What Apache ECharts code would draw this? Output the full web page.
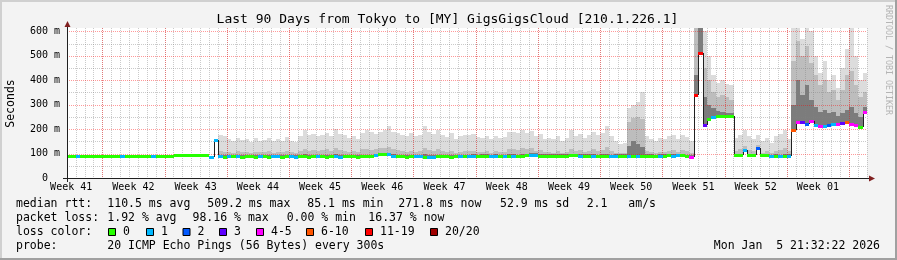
<!DOCTYPE html>
<html>
<head>
<meta charset="utf-8">
<script src="https://cdn.jsdelivr.net/npm/echarts@6/dist/echarts.min.js"></script>
<style>
html,body{margin:0;padding:0;background:#f3f3f3;}
#c{width:897px;height:260px;}
</style>
</head>
<body>
<div id="c"></div>
<script>
// ---------------- DATA ----------------
const titleText = 'Last 90 Days from Tokyo to [MY] GigsGigsCloud [210.1.226.1]';
const yAxisName = 'Seconds';
const creditText = 'RRDTOOL / TOBI OETIKER';
const dateText = 'Mon Jan  5 21:32:22 2026';

const weekLabels = ['Week 41','Week 42','Week 43','Week 44','Week 45','Week 46','Week 47',
                    'Week 48','Week 49','Week 50','Week 51','Week 52','Week 01'];
const weekLabelDays = [0.47, 7.47, 14.47, 21.47, 28.47, 35.47, 42.47, 49.47, 56.47, 63.47, 70.47, 77.47, 84.47];
const weekStartDays = [3.97, 10.97, 17.97, 24.97, 31.97, 38.97, 45.97, 52.97, 59.97, 66.97, 73.97, 80.97, 87.97];
const yTicks = [0, 100, 200, 300, 400, 500, 600];
const yMinorTicks = [50, 150, 250, 350, 450, 550];
const totalDays = 90;
const yMaxMs = 614;
const sampleStepDays = 0.5;

// median RTT per half-day sample (ms)
const medianRtt = [
  89,89,89,89,89,89,89,89,89,89,
  89,89,89,92,92,92,92,89,89,89,
  89,89,89,89,93,93,93,93,93,93,
  93,93,88,157,89,88,89,90,89,88,
  89,89,88,90,89,88,89,90,88,89,
  89,88,90,89,88,89,90,89,88,89,
  90,88,89,89,90,88,89,89,90,95,
  97,98,97,92,90,89,88,89,90,89,
  88,87,87,89,90,89,88,89,90,89,
  90,91,90,92,91,90,91,90,89,92,
  91,90,92,93,95,96,92,91,92,91,
  92,91,92,93,94,92,91,92,91,90,
  91,92,90,91,92,91,92,92,91,92,
  91,91,90,91,92,93,92,94,95,90,
  88,340,510,215,240,250,252,252,252,252,
  96,95,115,95,95,122,95,93,90,92,
  90,92,92,195,230,228,222,232,218,212,
  214,216,222,220,224,228,222,216,208,272
];
// lost pings (of 20) per sample
const lossCount = [
  0,0,1,0,0,0,0,0,0,0,
  0,0,1,0,0,0,0,0,0,1,
  0,0,0,0,0,0,0,0,0,0,
  0,0,1,1,1,0,1,0,1,0,
  0,0,0,1,0,0,1,1,0,0,
  1,1,0,0,0,0,1,0,0,0,
  1,1,0,0,0,0,0,0,0,1,
  0,0,1,1,0,0,0,0,1,1,
  0,1,1,0,0,0,0,0,1,0,
  1,1,0,0,0,1,1,0,1,0,
  1,0,0,0,1,1,0,0,0,0,
  0,0,0,0,0,1,0,0,1,0,
  0,0,1,1,0,0,1,0,1,0,
  0,0,0,1,0,0,1,1,0,0,
  5,15,15,3,0,1,0,0,0,0,
  0,0,1,0,0,2,0,0,1,0,
  1,0,1,10,5,3,2,5,1,5,
  1,2,1,5,3,10,5,5,0,5
];
// smoke: outer (max ping) layer top
const smokeHi = [
  null,null,null,null,null,null,null,null,null,null,
  null,null,null,null,null,null,null,null,null,null,
  null,null,null,null,null,null,null,null,null,null,
  null,null,null,null,178,170,160,150,165,155,
  158,148,162,152,155,165,150,160,152,168,
  150,148,172,198,175,182,170,178,184,172,
  200,182,176,165,172,160,185,198,190,180,
  188,195,211,190,185,178,170,184,172,176,
  211,190,182,196,178,168,184,160,172,176,
  175,180,168,165,170,158,172,162,168,188,
  190,184,196,186,192,170,182,160,165,158,
  170,150,162,198,172,180,165,178,190,178,
  186,212,172,150,140,145,285,300,310,350,
  170,160,150,165,158,172,176,160,178,168,
  150,614,614,600,500,420,390,400,385,380,
  165,178,197,170,160,175,150,165,145,172,
  180,196,160,614,614,570,614,600,500,430,
  480,400,420,370,450,530,614,500,400,430
];
// smoke: middle layer top
const smokeMid = [
  null,null,null,null,null,null,null,null,null,null,
  null,null,null,null,null,null,null,null,null,null,
  null,null,null,null,null,null,null,null,null,null,
  null,null,null,null,112,108,106,104,110,108,
  106,104,108,105,106,110,104,108,106,112,
  106,104,110,118,112,115,110,114,118,112,
  122,116,112,108,112,106,118,120,116,118,
  122,124,126,118,114,110,106,112,108,110,
  124,116,112,118,110,106,112,104,108,110,
  110,112,106,108,110,104,110,106,108,118,
  120,116,122,118,122,112,116,106,108,104,
  110,104,108,120,110,114,108,112,118,112,
  116,126,110,104,102,104,230,245,250,240,
  110,106,104,108,106,112,114,108,114,110,
  104,614,614,450,400,350,330,340,330,320,
  112,118,130,114,110,135,104,110,102,112,
  116,124,110,480,560,500,540,470,420,380,
  400,350,360,320,360,420,440,380,330,350
];
// smoke: inner (dark) layer top
const smokeDark = [
  null,null,null,null,null,null,null,null,null,null,
  null,null,null,null,null,null,null,null,null,null,
  null,null,null,null,null,null,null,null,null,null,
  null,null,null,null,96,94,95,96,95,94,
  95,95,94,96,95,94,95,96,94,95,
  95,94,96,97,94,95,96,95,96,95,
  98,95,95,95,96,94,95,96,96,100,
  102,103,102,98,96,95,94,95,96,95,
  97,94,94,95,96,95,94,95,96,95,
  96,97,96,98,97,96,97,96,95,98,
  97,96,98,99,101,102,98,97,98,97,
  98,97,98,99,100,98,97,98,97,96,
  97,98,96,97,98,97,130,150,140,125,
  97,97,96,97,98,99,98,99,100,96,
  94,420,614,330,300,285,275,272,268,265,
  100,100,118,100,100,125,100,98,96,98,
  96,98,98,300,400,340,380,320,290,270,
  280,265,270,255,265,280,290,265,250,290
];

const lossBandLabels = ['0','1','2','3','4-5','6-10','11-19','20/20'];
const lossBandMax = [0, 1, 2, 3, 5, 10, 19, 20];
const lossColors = ['#26ff00','#00b8ff','#0059ff','#5e00ff','#ff00ff','#ff5500','#ff0000','#a00000'];

const legendRtt = ['median rtt:', '110.5 ms avg', '509.2 ms max', '85.1 ms min', '271.8 ms now', '52.9 ms sd', '2.1', 'am/s'];
const legendLoss = ['packet loss:', '1.92 % avg', '98.16 % max', '0.00 % min', '16.37 % now'];
const legendLossColor = 'loss color:';
const legendProbe = ['probe:', '20 ICMP Echo Pings (56 Bytes) every 300s'];

// ---------------- STYLE / LAYOUT ----------------
const MONO = '"DejaVu Sans Mono", monospace';
const smokeColors = ['#dcdcdc', '#bdbdbd', '#7c7c7c'];
const gridMinorColor = 'rgba(128,128,128,0.42)';
const gridMajorColor = 'rgba(255,0,0,0.40)';
const PLOT = {left: 67, top: 28, width: 800, height: 150};

function lossColor(n) {
  for (let k = 0; k < lossBandMax.length; k++) if (n <= lossBandMax[k]) return lossColors[k];
  return lossColors[lossColors.length - 1];
}

const smokeData = [];
medianRtt.forEach((m, i) => {
  if (smokeHi[i] != null) smokeData.push([i * sampleStepDays, m, smokeHi[i], smokeMid[i], smokeDark[i]]);
});
const medianData = medianRtt.map((m, i) => [i * sampleStepDays, m, lossCount[i], i > 0 ? medianRtt[i - 1] : m]);

const gridData = [];
for (let k = 0; k < totalDays; k++) gridData.push([weekStartDays[0] - 3 + k, 0, 0]);
weekStartDays.forEach(d => gridData.push([d, 0, 1]));
yMinorTicks.forEach(v => gridData.push([0, v, 2]));
yTicks.slice(1).forEach(v => gridData.push([0, v, 3]));

function renderSmoke(params, api) {
  const t0 = api.value(0);
  const base = api.value(1);
  const xa = Math.round(api.coord([t0, 0])[0]);
  const xb = Math.round(api.coord([t0 + sampleStepDays, 0])[0]);
  const yb = Math.round(api.coord([t0, base])[1]);
  const children = [];
  [2, 3, 4].forEach((dim, li) => {
    const top = api.value(dim);
    if (top == null || isNaN(top) || top <= base) return;
    const yt = Math.round(api.coord([t0, Math.min(top, yMaxMs)])[1]);
    children.push({type: 'rect', shape: {x: xa, y: yt, width: xb - xa, height: yb - yt},
      style: {fill: smokeColors[li]}});
  });
  return {type: 'group', children};
}

function renderMedian(params, api) {
  const t0 = api.value(0), m = api.value(1), loss = api.value(2), prev = api.value(3);
  const xa = Math.round(api.coord([t0, 0])[0]);
  const xb = Math.round(api.coord([t0 + sampleStepDays, 0])[0]);
  const y = Math.round(api.coord([t0, m])[1]);
  const children = [];
  const yp = Math.round(api.coord([t0, prev])[1]);
  if (Math.abs(yp - y) > 2) {
    children.push({type: 'line', shape: {x1: xa + 0.5, y1: yp, x2: xa + 0.5, y2: y},
      style: {stroke: '#202020', lineWidth: 1}});
  }
  children.push({type: 'rect', shape: {x: xa, y: y - 1, width: xb - xa, height: 3},
    style: {fill: lossColor(loss)}});
  return {type: 'group', children};
}

function renderGrid(params, api) {
  const cs = params.coordSys;
  const kind = api.value(2);
  const color = (kind === 1 || kind === 3) ? gridMajorColor : gridMinorColor;
  let shape;
  if (kind <= 1) {
    const x = Math.round(api.coord([api.value(0), 0])[0]) + 0.5;
    shape = {x1: x, y1: cs.y, x2: x, y2: cs.y + cs.height};
  } else {
    const y = Math.round(api.coord([0, api.value(1)])[1]) + 0.5;
    shape = {x1: cs.x, y1: y, x2: cs.x + cs.width, y2: y};
  }
  return {type: 'line', shape, style: {stroke: color, lineWidth: 1, lineDash: [1, 1]}};
}

// ---------------- GRAPHICS (frame, texts, legend) ----------------
const W = 897, H = 260;
const graphics = [];
graphics.push({type: 'rect', shape: {x: 0, y: 0, width: W, height: 2}, style: {fill: '#d0d0d0'}, z: 100});
graphics.push({type: 'rect', shape: {x: 0, y: 0, width: 2, height: H}, style: {fill: '#d0d0d0'}, z: 100});
graphics.push({type: 'rect', shape: {x: W - 2, y: 0, width: 2, height: H}, style: {fill: '#a0a0a0'}, z: 101});
graphics.push({type: 'rect', shape: {x: 0, y: H - 2, width: W, height: 2}, style: {fill: '#a0a0a0'}, z: 101});
const axY = PLOT.top + PLOT.height;
graphics.push({type: 'line', shape: {x1: PLOT.left - 4, y1: axY + 0.5, x2: PLOT.left + PLOT.width + 3, y2: axY + 0.5},
  style: {stroke: '#202020', lineWidth: 1}, z: 50});
graphics.push({type: 'line', shape: {x1: PLOT.left + 0.5, y1: axY + 4, x2: PLOT.left + 0.5, y2: PLOT.top - 3},
  style: {stroke: '#202020', lineWidth: 1}, z: 50});
graphics.push({type: 'polygon', shape: {points: [[PLOT.left + PLOT.width + 2, axY - 2.5], [PLOT.left + PLOT.width + 2, axY + 3.5], [PLOT.left + PLOT.width + 8, axY + 0.5]]},
  style: {fill: '#802020'}, z: 51});
graphics.push({type: 'polygon', shape: {points: [[PLOT.left - 2.5, PLOT.top - 1], [PLOT.left + 3.5, PLOT.top - 1], [PLOT.left + 0.5, PLOT.top - 7]]},
  style: {fill: '#802020'}, z: 51});
graphics.push({type: 'text', x: 447.5, y: 19.5, style: {text: titleText, font: '13px ' + MONO, fill: '#000',
  align: 'center', verticalAlign: 'middle'}, z: 60});
graphics.push({type: 'text', x: 11, y: 103.5, rotation: Math.PI / 2, style: {text: yAxisName, font: '11.5px ' + MONO,
  fill: '#000', align: 'center', verticalAlign: 'middle'}, z: 60});
graphics.push({type: 'text', x: 888, y: 60, rotation: -Math.PI / 2, style: {text: creditText, font: '8.3px ' + MONO,
  fill: '#b4b4b4', align: 'center', verticalAlign: 'middle'}, z: 60});

const LFONT = '11.5px ' + MONO;
function ltext(x, y, t, align) {
  graphics.push({type: 'text', x, y, style: {text: t, font: LFONT, fill: '#000', align: align || 'left', verticalAlign: 'middle'}, z: 60});
}
const rowY = [204, 218, 232, 246];
const rttX = [16, 107.3, 207.3, 307.3, 398.3, 500, 586.7, 628.3];
legendRtt.forEach((t, k) => ltext(rttX[k], rowY[0], t));
const lossX = [16, 107.3, 192.5, 286.7, 368.3];
legendLoss.forEach((t, k) => ltext(lossX[k], rowY[1], t));
ltext(16, rowY[2], legendLossColor);
const boxX = [108, 146, 182.5, 219, 256, 306, 365, 430];
lossBandLabels.forEach((t, k) => {
  graphics.push({type: 'rect', shape: {x: boxX[k] + 0.5, y: rowY[2] - 3.5, width: 7, height: 7},
    style: {fill: lossColors[k], stroke: '#000', lineWidth: 1}, z: 60});
  ltext(boxX[k] + 15, rowY[2], t);
});
ltext(16, rowY[3], legendProbe[0]);
ltext(107.3, rowY[3], legendProbe[1]);
ltext(880, rowY[3], dateText, 'right');

// ---------------- CHART ----------------
const chart = echarts.init(document.getElementById('c'), null, {renderer: 'canvas', width: W, height: H});
chart.setOption({
  animation: false,
  backgroundColor: '#f3f3f3',
  grid: {left: PLOT.left, top: PLOT.top, width: PLOT.width, height: PLOT.height, show: true,
    backgroundColor: '#ffffff', borderWidth: 0, containLabel: false},
  xAxis: {
    type: 'value', min: 0, max: totalDays,
    axisLine: {show: false}, axisTick: {show: false}, splitLine: {show: false},
    axisLabel: {
      customValues: weekLabelDays, margin: 4, fontFamily: MONO, fontSize: 10, color: '#000',
      formatter: function (v) {
        let best = 0;
        weekLabelDays.forEach((d, k) => { if (Math.abs(d - v) < Math.abs(weekLabelDays[best] - v)) best = k; });
        return weekLabels[best];
      }
    }
  },
  yAxis: {
    type: 'value', min: 0, max: yMaxMs,
    axisLine: {show: false}, axisTick: {show: false}, splitLine: {show: false},
    axisLabel: {
      customValues: yTicks, margin: 7, fontFamily: MONO, fontSize: 10, color: '#000', align: 'right',
      formatter: function (v) { return v === 0 ? '0  ' : v + ' m'; }
    }
  },
  series: [
    {type: 'custom', name: 'smoke', renderItem: renderSmoke, data: smokeData, clip: true, z: 2,
      encode: {x: 0, y: 1}, silent: true},
    {type: 'custom', name: 'grid', renderItem: renderGrid, data: gridData, clip: false, z: 3,
      encode: {x: 0, y: 1}, silent: true},
    {type: 'custom', name: 'median', renderItem: renderMedian, data: medianData, clip: true, z: 4,
      encode: {x: 0, y: 1}, silent: true}
  ],
  graphic: graphics
});
</script>
</body>
</html>
